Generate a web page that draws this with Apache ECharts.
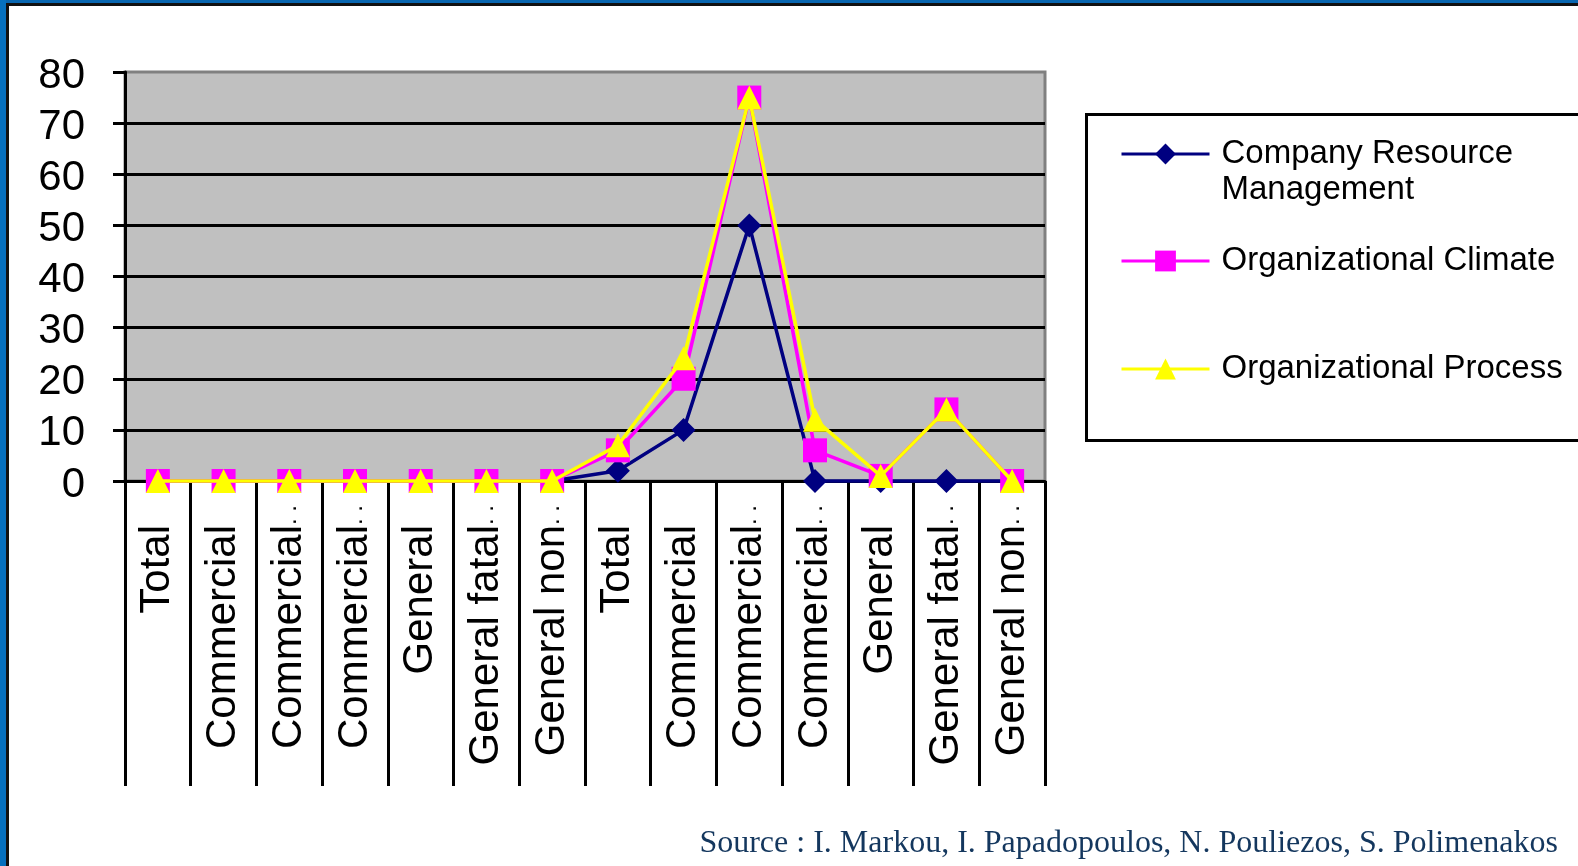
<!DOCTYPE html>
<html><head><meta charset="utf-8">
<script src="https://cdn.jsdelivr.net/npm/echarts@6/dist/echarts.min.js"></script>
<style>html,body{margin:0;padding:0;background:#fff;}#c{width:1578px;height:866px;}</style>
</head><body><div id="c"></div>
<script>
const categories = ['Total','Commercial','Commercial..','Commercial..','General','General fatal..','General non..','Total','Commercial','Commercial..','Commercial..','General','General fatal..','General non..'];
const seriesNames = ['Company Resource Management','Organizational Climate','Organizational Process'];
const crmValues = [0,0,0,0,0,0,0,2,10,50,0,0,0,0];
const climateValues = [0,0,0,0,0,0,0,6,20,75,6,1,14,0];
const processValues = [0,0,0,0,0,0,0,7,24,75,12,1,14,0];
const yMin = 0, yMax = 80, yStep = 10;
const sourceText = 'Source : I. Markou, I. Papadopoulos, N. Pouliezos, S. Polimenakos';

const FF = '"Liberation Sans", Arial, sans-serif';
const chart = echarts.init(document.getElementById('c'), null, {renderer:'canvas'});

function legendCfg(name, top) {
  return {
    data:[name], orient:'vertical', left:1120, top:top, padding:0,
    itemWidth:88, itemHeight:26, selectedMode:false,
    lineStyle:{width:3},
    formatter: n => n === seriesNames[0] ? '\nCompany Resource\nManagement' : n,
    textStyle:{fontFamily:FF, fontSize:33, lineHeight:36, color:'#000', padding:[0,0,0,7]}
  };
}

const option = {
  backgroundColor:'#fff',
  animation:false,
  grid:{left:125, right:533, top:72, bottom:385, show:true, backgroundColor:'#C0C0C0', borderColor:'#808080', borderWidth:3},
  xAxis:{
    type:'category', data:categories, boundaryGap:true,
    axisLine:{lineStyle:{color:'#000', width:3}},
    axisTick:{show:true, length:305, interval:0, lineStyle:{color:'#000', width:3}},
    axisLabel:{
      interval:0, rotate:90, margin:24, color:'#000', fontFamily:FF, fontSize:42,
      formatter: v => v.endsWith('..') ? v.slice(0,-2) + '{d|. .}' : v + '{s| }',
      rich:{ d:{fontFamily:FF, fontSize:24, color:'#000'}, s:{width:20, fontSize:24} }
    }
  },
  yAxis:{
    type:'value', min:yMin, max:yMax, interval:yStep,
    axisLine:{show:true, lineStyle:{color:'#000', width:3}},
    axisTick:{show:true, length:12, lineStyle:{color:'#000', width:3}},
    axisLabel:{margin:40, color:'#000', fontFamily:FF, fontSize:42,
      formatter: v => '{a|' + v + '}',
      rich:{a:{fontFamily:FF, fontSize:42, color:'#000', padding:[8,0,0,0]}}},
    splitLine:{show:true, showMaxLine:false, lineStyle:{color:'#000', width:3}}
  },
  legend:[ legendCfg(seriesNames[0], 100), legendCfg(seriesNames[1], 243), legendCfg(seriesNames[2], 351) ],
  series:[
    {name:seriesNames[0], type:'line', data:crmValues, clip:false, symbol:'diamond', symbolSize:24,
     lineStyle:{color:'#000080', width:3.5}, itemStyle:{color:'#000080'}, z:2},
    {name:seriesNames[1], type:'line', data:climateValues, clip:false, symbol:'rect', symbolSize:24,
     lineStyle:{color:'#FF00FF', width:3.5}, itemStyle:{color:'#FF00FF'}, z:3},
    {name:seriesNames[2], type:'line', data:processValues, clip:false, symbol:'triangle', symbolSize:24,
     lineStyle:{color:'#FFFF00', width:3.5}, itemStyle:{color:'#FFFF00'}, z:4}
  ],
  graphic:[
    {type:'rect', shape:{x:0,y:0,width:1578,height:3}, style:{fill:'#0866B0'}, silent:true},
    {type:'rect', shape:{x:0,y:0,width:6,height:866}, style:{fill:'#0670BE'}, silent:true},
    {type:'rect', shape:{x:6,y:3,width:1572,height:3}, style:{fill:'#111'}, silent:true},
    {type:'rect', shape:{x:6,y:3,width:3,height:863}, style:{fill:'#111'}, silent:true},
    {type:'rect', shape:{x:1086.5,y:114.5,width:520,height:326}, style:{fill:'none', stroke:'#000', lineWidth:3}, silent:true},
    {type:'text', x:1558, y:844, style:{text:sourceText, fill:'#14375E', font:'32px "Liberation Serif", "Times New Roman", serif', textAlign:'right', textVerticalAlign:'middle'}, silent:true}
  ]
};
chart.setOption(option);
</script></body></html>
